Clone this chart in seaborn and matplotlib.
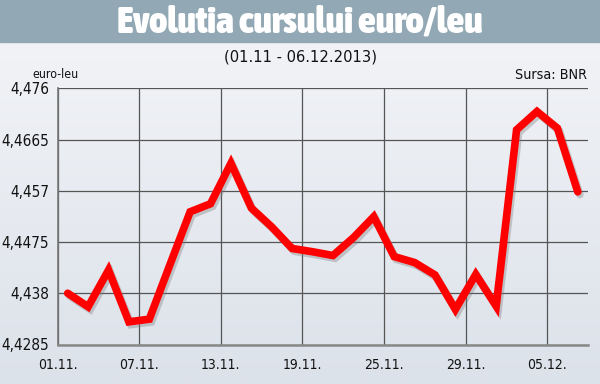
import numpy as np
import pandas as pd
import matplotlib
matplotlib.use("Agg")
import matplotlib.pyplot as plt
import matplotlib.patheffects as pe
from matplotlib import font_manager as fm
import seaborn as sns

dates = ["01.11", "04.11", "05.11", "06.11", "07.11", "08.11", "11.11", "12.11", "13.11",
         "14.11", "15.11", "18.11", "19.11", "20.11", "21.11", "22.11", "25.11", "26.11",
         "27.11", "28.11", "29.11", "02.12", "03.12", "04.12", "05.12", "06.12"]
rates = [4.4380, 4.4355, 4.4423, 4.4327, 4.4332, 4.4432, 4.4531, 4.4546, 4.4621,
         4.4538, 4.4503, 4.4463, 4.4457, 4.4450, 4.4483, 4.4522, 4.4448, 4.4437,
         4.4414, 4.4350, 4.4415, 4.4356, 4.4683, 4.4717, 4.4686, 4.4568]
tick_labels = ["01.11.", "07.11.", "13.11.", "19.11.", "25.11.", "29.11.", "05.12."]
tick_days = ["01.11", "07.11", "13.11", "19.11", "25.11", "29.11", "05.12"]
y_ticks = [4.4285, 4.438, 4.4475, 4.457, 4.4665, 4.476]
y_labels = ["4,4285", "4,438", "4,4475", "4,457", "4,4665", "4,476"]

sns.set_style("white")
plt.rcParams["font.family"] = ["Liberation Sans", "DejaVu Sans"]

WMAP = {"ultralight": 100, "light": 300, "normal": 400, "regular": 400, "book": 400,
        "medium": 500, "roman": 400, "semibold": 600, "demibold": 600, "demi": 600,
        "bold": 700, "heavy": 800, "extra bold": 800, "black": 900}


def wnum(w):
    try:
        return int(w)
    except Exception:
        return WMAP.get(str(w).lower(), 400)


cond = [f for f in fm.fontManager.ttflist
        if ("Narrow" in f.name or "Condensed" in f.name
            or str(f.stretch) in ("condensed", "semi-condensed", "extra-condensed", "ultra-condensed"))
        and str(f.style) == "normal"]
if cond:
    heavy = max(cond, key=lambda f: wnum(f.weight))
    regular = min(cond, key=lambda f: abs(wnum(f.weight) - 400))
    fp_title = fm.FontProperties(fname=heavy.fname)
    fp_reg = fm.FontProperties(fname=regular.fname)
else:
    fp_title = fm.FontProperties(family=["Liberation Sans", "DejaVu Sans"], weight="bold")
    fp_reg = fm.FontProperties(family=["Liberation Sans", "DejaVu Sans"])


def fp(size, base):
    p = base.copy()
    p.set_size(size)
    return p


df = pd.DataFrame({"idx": np.arange(len(dates)), "rate": rates})

fig = plt.figure(figsize=(6.0, 3.84), dpi=100)
bg = fig.add_axes([0, 0, 1, 1], zorder=-10)
grad = np.linspace(0, 1, 256).reshape(-1, 1)
cmap = matplotlib.colors.LinearSegmentedColormap.from_list("bg", ["#f4f5f8", "#dce2ea"])
bg.imshow(grad, aspect="auto", cmap=cmap, extent=[0, 1, 0, 1], origin="upper")
bg.add_patch(plt.Rectangle((0, 1 - 42 / 384), 1, 42 / 384, color="#92a8b4", transform=bg.transAxes))
bg.set_axis_off()

ax = fig.add_axes([57.5 / 600, 1 - 344.5 / 384, (588 - 57.5) / 600, (344.5 - 88.3) / 384])
ax.patch.set_alpha(0)

sns.lineplot(data=df, x="idx", y="rate", ax=ax, color="#ff0000", linewidth=5.5,
             path_effects=[pe.SimpleLineShadow(offset=(1.5, -2), shadow_color="#777777", alpha=0.35),
                           pe.Normal()], zorder=5)
ax.lines[0].set_solid_joinstyle("miter")

ax.set_xlim(-0.5, len(dates) - 0.5)
ax.set_ylim(y_ticks[0], y_ticks[-1])
xt = [dates.index(d) - 0.5 for d in tick_days]
ax.set_xticks(xt)
ax.set_xticklabels(tick_labels, fontproperties=fp(10, fp_reg))
ax.set_yticks(y_ticks)
ax.set_yticklabels(y_labels, fontproperties=fp(11, fp_reg))
ax.set_xlabel("")
ax.set_ylabel("")
ax.grid(True, color="#555555", linewidth=0.9)
for s in ["top", "right"]:
    ax.spines[s].set_visible(False)
ax.spines["left"].set_color("#777777")
ax.spines["bottom"].set_color("#888888")
ax.spines["left"].set_linewidth(1.2)
ax.spines["bottom"].set_linewidth(1.8)
ax.tick_params(axis="both", length=4, width=1, color="#666666", pad=2, labelcolor="#111111")
ax.tick_params(axis="x", pad=6)

title_txt = "Evolutia cursului euro/leu"
t_title = fig.text(0.5, 1 - 22 / 384, title_txt, ha="center", va="center", color="white",
                   fontproperties=fp(20, fp_title))
sub_txt = "(01.11 - 06.12.2013)"
t_sub = fig.text(0.5, 1 - 57 / 384, sub_txt, ha="center", va="center", color="#111111",
                 fontproperties=fp(10, fp_reg))
t_eu = fig.text(32 / 600, 1 - 75 / 384, "euro-leu", ha="left", va="center", color="#111111",
                fontproperties=fp(10, fp_reg))
t_src = fig.text(587 / 600, 1 - 75 / 384, "Sursa: BNR", ha="right", va="center", color="#111111",
                 fontproperties=fp(10, fp_reg))

fig.canvas.draw()
r = fig.canvas.get_renderer()


def fit(texts, ref, target_px, maxsize):
    cur = ref.get_fontsize()
    w = ref.get_window_extent(r).width
    s = min(cur * target_px / max(w, 1), maxsize)
    for t in texts:
        t.set_fontsize(s)


fit([t_title], t_title, 365, 36)
fit([t_sub], t_sub, 152, 20)
fit([t_eu], t_eu, 46, 14)
fit([t_src], t_src, 72, 14)

fig.savefig("out.png", dpi=100)
